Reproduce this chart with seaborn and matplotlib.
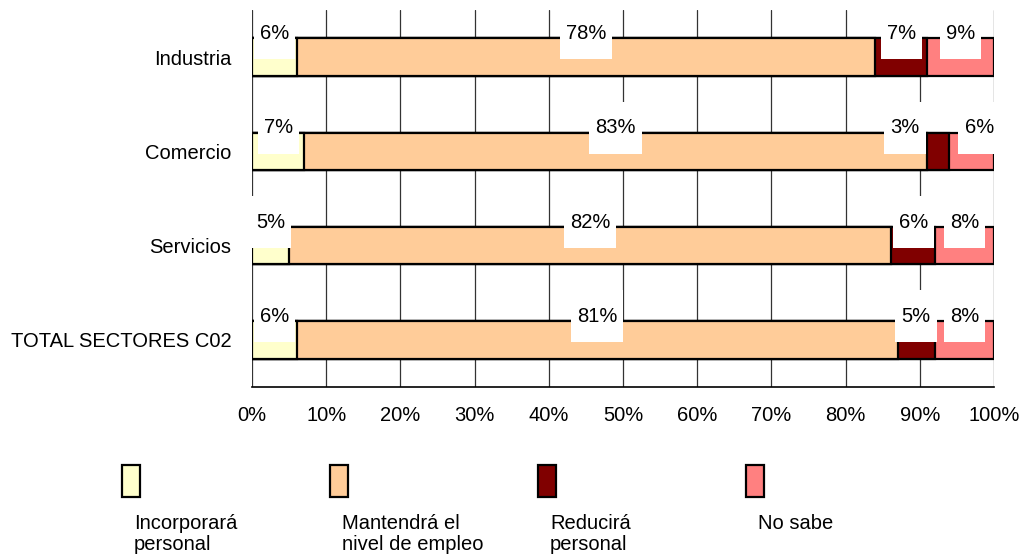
import numpy as np
import pandas as pd
import matplotlib
matplotlib.use('Agg')
import matplotlib.pyplot as plt
from matplotlib.patches import Rectangle
import seaborn as sns

# Data (percent of firms)
categories = ['Industria', 'Comercio', 'Servicios', 'TOTAL SECTORES C02']
series_names = ['Incorporará\npersonal', 'Mantendrá el\nnivel de empleo',
                'Reducirá\npersonal', 'No sabe']
incorpora = [6, 7, 5, 6]
mantiene = [78, 83, 82, 81]
reduce_ = [7, 3, 6, 5]
no_sabe = [9, 6, 8, 8]
colors = ['#FFFFCC', '#FFCC99', '#800000', '#FF8080']
xtick_values = list(range(0, 101, 10))

sns.set_style('white')
plt.rcParams['font.family'] = ['Liberation Sans', 'DejaVu Sans']
plt.rcParams['text.color'] = 'black'
plt.rcParams['xtick.color'] = 'black'
plt.rcParams['ytick.color'] = 'black'
plt.rcParams['axes.labelcolor'] = 'black'

df = pd.DataFrame({'cat': categories, 's0': incorpora, 's1': mantiene,
                   's2': reduce_, 's3': no_sabe})
vals = df[['s0', 's1', 's2', 's3']].to_numpy(dtype=float)
# bars in the original are scaled to fill 100%
shares = vals / vals.sum(axis=1, keepdims=True) * 100
cum = np.cumsum(shares, axis=1)

fig = plt.figure(figsize=(10.22, 5.6), dpi=100)
ax = fig.add_axes([252 / 1022, 1 - 387 / 560, 742 / 1022, 377 / 560])

# stacked bars: draw cumulative totals from the longest to the shortest
for k in range(3, -1, -1):
    sns.barplot(x=cum[:, k], y=df['cat'], orient='h', color=colors[k],
                width=0.4, edgecolor='black', linewidth=1.6, saturation=1,
                ax=ax, zorder=2)

# percentage labels with white boxes sitting on the top edge of each bar
for i in range(len(categories)):
    centers = list(cum[i] - shares[i] / 2)
    # crude collision handling for the two small segments at the right end
    if centers[3] - centers[2] < 6:
        mid = (centers[2] + centers[3]) / 2
        centers[3] = min(mid + 5, 98)
        centers[2] = centers[3] - 10
    for k in range(4):
        ax.text(centers[k], i - 0.25, f"\n{int(vals[i, k])}%\n", ha='center',
                va='center', fontsize=14.5, linespacing=0.42, zorder=4,
                bbox=dict(boxstyle='square,pad=0.3', facecolor='white',
                          edgecolor='none'))

ax.set_xlim(0, 100)
ax.set_ylim(3.5, -0.5)
ax.set_xticks(xtick_values)
ax.set_xticklabels([f"{v}%" for v in xtick_values], fontsize=14.5)
ax.tick_params(axis='x', direction='out', length=5, width=1, pad=9)
ax.tick_params(axis='y', length=0, pad=15, labelsize=14.5)
ax.set_xlabel('')
ax.set_ylabel('')
ax.grid(axis='x', color='#333333', linewidth=0.9, zorder=0)
ax.set_axisbelow(True)
for side in ['top', 'right', 'left']:
    ax.spines[side].set_visible(False)
ax.spines['bottom'].set_color('black')
ax.spines['bottom'].set_linewidth(1.2)

# legend drawn below the plot
leg_x = [122, 330, 538, 746]
for k in range(4):
    x0 = leg_x[k] / 1022
    fig.add_artist(Rectangle((x0, 1 - 497 / 560), 18 / 1022, 32 / 560,
                             transform=fig.transFigure, facecolor=colors[k],
                             edgecolor='black', linewidth=1.6))
    fig.text(x0 + 12 / 1022, 1 - 514 / 560, series_names[k], ha='left', va='top',
             fontsize=14.5, linespacing=1.1)

fig.savefig('out.png', dpi=100)
